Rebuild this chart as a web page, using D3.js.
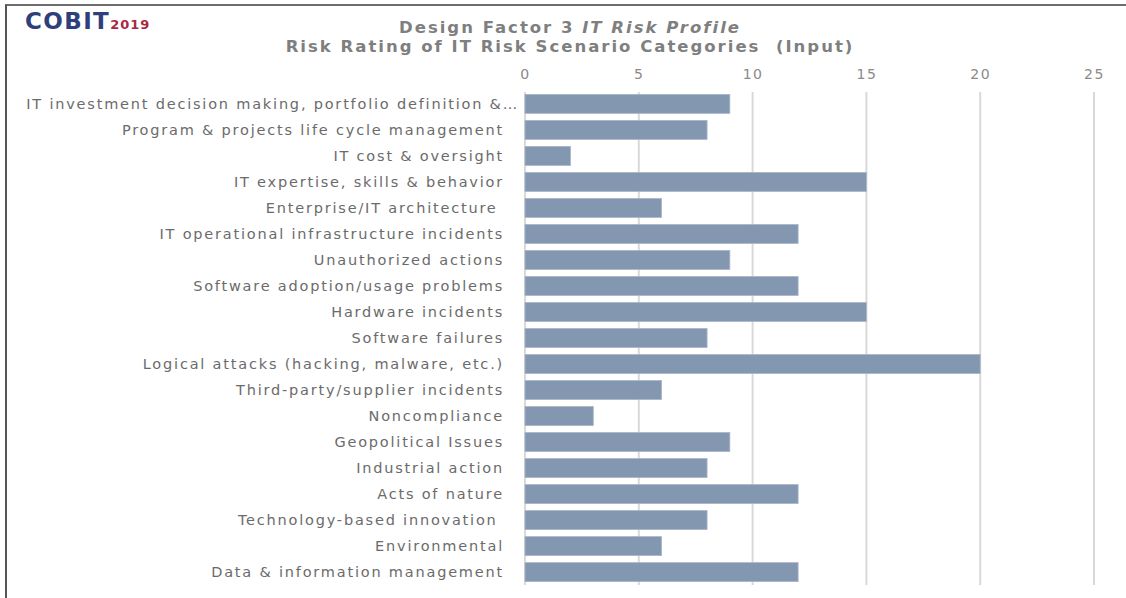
<!DOCTYPE html>
<meta charset="utf-8">
<script src="https://d3js.org/d3.v7.min.js"></script>
<style>
    body { margin: 0; background: #fff; }
    svg { display: block; }
    .lbl { font-family: "DejaVu Sans", sans-serif; font-size: 14.5px; fill: #6b6b6b; letter-spacing: 1.8px; white-space: pre; }
    .tick-lbl { font-family: "DejaVu Sans", sans-serif; font-size: 14px; fill: #8a8a8a; letter-spacing: 1.5px; }
    .title { font-family: "DejaVu Sans", sans-serif; font-size: 16.5px; font-weight: bold; fill: #7f7f7f; letter-spacing: 2px; white-space: pre; }
</style>
<div id="chart"></div>
<script>

    // categories, top to bottom
    var categories = [
        "IT investment decision making, portfolio definition &\u2026",
        "Program & projects life cycle management",
        "IT cost & oversight",
        "IT expertise, skills & behavior",
        "Enterprise/IT architecture ",
        "IT operational infrastructure incidents",
        "Unauthorized actions",
        "Software adoption/usage problems",
        "Hardware incidents",
        "Software failures",
        "Logical attacks (hacking, malware, etc.)",
        "Third-party/supplier incidents",
        "Noncompliance",
        "Geopolitical Issues",
        "Industrial action",
        "Acts of nature",
        "Technology-based innovation ",
        "Environmental",
        "Data & information management"
    ];

    // risk rating per category
    var ratings = [9, 8, 2, 15, 6, 12, 9, 12, 15, 8, 20, 6, 3, 9, 8, 12, 8, 6, 12];

    var ticks = [0, 5, 10, 15, 20, 25];

    var W = 1126, H = 598;
    var margin = {top: 91, left: 525};

    var svg = d3.select("#chart")
        .append("svg")
        .attr("width", W)
        .attr("height", H);

    // frame (top and left edge of the slide)
    svg.append("line").attr("x1", 5).attr("x2", W).attr("y1", 5).attr("y2", 5)
        .attr("stroke", "#6e6e6e").attr("stroke-width", 2);
    svg.append("line").attr("x1", 6).attr("x2", 6).attr("y1", 5).attr("y2", H)
        .attr("stroke", "#555").attr("stroke-width", 2);

    // logo
    var logo = svg.append("text")
        .attr("x", 25).attr("y", 29)
        .style("font-family", "'DejaVu Sans', sans-serif")
        .style("font-weight", "bold");
    logo.append("tspan").text("COBIT")
        .attr("fill", "#2e3f7c").style("font-size", "23px").style("letter-spacing", "1.4px");
    logo.append("tspan").text("2019")
        .attr("fill", "#a8293f").style("font-size", "13px").style("letter-spacing", "1px");

    // title
    var t1 = svg.append("text").attr("class", "title")
        .attr("x", 570).attr("y", 33).attr("text-anchor", "middle");
    t1.append("tspan").text("Design Factor 3 ");
    t1.append("tspan").text("IT Risk Profile").style("font-style", "italic");
    svg.append("text").attr("class", "title")
        .attr("x", 570).attr("y", 52).attr("text-anchor", "middle")
        .text("Risk Rating of IT Risk Scenario Categories  (Input)");

    var g = svg.append("g")
        .attr("transform", "translate(" + margin.left + "," + margin.top + ")");

    var x = d3.scaleLinear()
        .domain([0, 25])
        .range([0, 569]);

    var y = d3.scaleBand()
        .domain(categories)
        .range([0, 26 * categories.length])
        .paddingInner(0.27)
        .paddingOuter(0.13);

    // gridlines
    g.selectAll(".grid")
        .data(ticks)
        .enter()
        .append("line")
        .attr("x1", function(d) { return x(d); })
        .attr("x2", function(d) { return x(d); })
        .attr("y1", 1)
        .attr("y2", 494)
        .attr("stroke", "#d9d9d9")
        .attr("stroke-width", 2);

    // top axis labels
    var xAxis = d3.axisTop(x).tickValues(ticks).tickSize(0).tickPadding(0);
    var ax = g.append("g").attr("transform", "translate(0,-12)").call(xAxis);
    ax.select(".domain").remove();
    ax.selectAll("text").attr("class", "tick-lbl").attr("fill", null).attr("font-size", null).attr("font-family", null);

    // bars
    g.selectAll("rect")
        .data(ratings)
        .enter()
        .append("rect")
        .attr("x", x(0))
        .attr("y", function(d, i) { return y(categories[i]); })
        .attr("width", function(d) { return x(d) - x(0); })
        .attr("height", y.bandwidth())
        .attr("fill", "#8497b0")
        .attr("stroke", "#a9b6c9")
        .attr("stroke-width", 0.8);

    // category labels
    g.selectAll(".lbl")
        .data(categories)
        .enter()
        .append("text")
        .attr("class", "lbl")
        .attr("x", function(d) { return d.slice(-1) == "\u2026" ? -6 : -21; })
        .attr("y", function(d) { return y(d) + y.bandwidth() / 2; })
        .attr("dy", "0.35em")
        .attr("text-anchor", "end")
        .text(function(d) { return d; });

</script>
